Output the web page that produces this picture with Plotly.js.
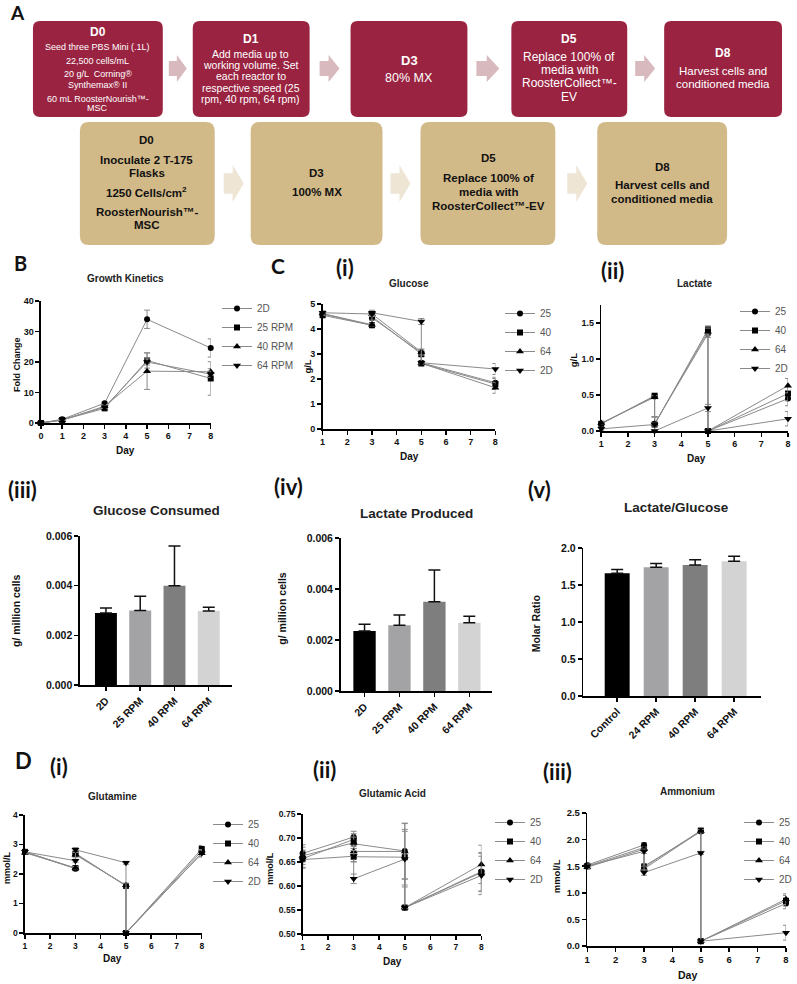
<!DOCTYPE html>
<html>
<head>
<meta charset="utf-8">
<script src="https://cdn.plot.ly/plotly-3.0.1.min.js"></script>
<style>html,body{margin:0;padding:0;background:#fff}#chart{width:797px;height:984px}</style>
</head>
<body>
<div id="chart"></div>
<script>
// ---- data ----
// B: growth kinetics
var growthDays = [0, 1, 3, 5, 8];
var growth2D  = [0, 1.2, 6.5, 34, 24.6];
var growth25  = [0, 1.0, 4.8, 20.5, 14.6];
var growth40  = [0, 0.9, 5.5, 17, 16.8];
var growth64  = [0, 1.1, 5.2, 20.0, 16.0];
var growth2DErr = [0, 0.3, 0.4, 3, 3];
var growth25Err = [0, 0.3, 0.4, 2.5, 5.5];
var growth40Err = [0, 0.2, 0.5, 6, 1];
var growth64Err = [0, 0.2, 0.4, 1, 1];

// C and D: metabolites, days 3 and 5 sampled before and after media change
var sampleDays = [1, 3, 3, 5, 5, 8];
var glucose25 = [4.60, 4.15, 4.45, 3.05, 2.65, 1.85];
var glucose40 = [4.55, 4.15, 4.50, 3.00, 2.62, 1.80];
var glucose64 = [4.62, 4.17, 4.60, 3.08, 2.63, 1.65];
var glucose2D = [4.65, 4.60, 4.65, 4.30, 2.65, 2.40];
var glucoseErr = [0.08, 0.05, 0.1, 0.12, 0.05, 0.22];

var lactate25 = [0.10, 0.48, 0.10, 1.35, 0.00, 0.45];
var lactate40 = [0.10, 0.49, 0.09, 1.41, 0.00, 0.52];
var lactate64 = [0.11, 0.47, 0.10, 1.38, 0.00, 0.63];
var lactate2D = [0.03, 0.09, 0.00, 0.32, 0.00, 0.17];
var lactateErr = [0.02, 0.02, 0.1, 0.05, 0.01, 0.1];

var glutamine25 = [2.75, 2.18, 2.70, 1.60, 0, 2.78];
var glutamine40 = [2.75, 2.20, 2.68, 1.60, 0, 2.85];
var glutamine64 = [2.72, 2.20, 2.65, 1.62, 0, 2.70];
var glutamine2D = [2.75, 2.45, 2.82, 2.38, 0, 2.70];
var glutamineErr = [0.05, 0.05, 0.08, 0.05, 0, 0.12];

var glutamic25 = [0.668, 0.702, 0.688, 0.673, 0.555, 0.630];
var glutamic40 = [0.657, 0.697, 0.661, 0.660, 0.555, 0.628];
var glutamic64 = [0.663, 0.690, 0.672, 0.672, 0.555, 0.645];
var glutamic2D = [0.655, 0.662, 0.615, 0.656, 0.555, 0.622];
var glutamicErr = [0.018, 0.012, 0.01, 0.058, 0.002, 0.04];

var ammonium25 = [1.52, 1.90, 1.50, 2.15, 0.09, 0.80];
var ammonium40 = [1.50, 1.85, 1.48, 2.17, 0.09, 0.85];
var ammonium64 = [1.48, 1.82, 1.45, 2.16, 0.09, 0.88];
var ammonium2D = [1.50, 1.78, 1.38, 1.75, 0.09, 0.25];
var ammoniumErr = [0.04, 0.04, 0.05, 0.03, 0.01, 0.1];
var ammonium2DErr = [0.04, 0.04, 0.05, 0.03, 0.01, 0.14];

// bars
var barGroups = ['2D', '25 RPM', '40 RPM', '64 RPM'];
var glucoseConsumed = [0.0029, 0.0030, 0.0040, 0.00298];
var glucoseConsumedErr = [0.0002, 0.00057, 0.0016, 0.00015];
var lactateProduced = [0.00235, 0.00258, 0.0035, 0.00268];
var lactateProducedErr = [0.00027, 0.0004, 0.00125, 0.00025];
var ratioGroups = ['Control', '24 RPM', '40 RPM', '64 RPM'];
var molarRatio = [1.66, 1.74, 1.77, 1.82];
var molarRatioErr = [0.05, 0.05, 0.07, 0.07];
var barColors = ['#000000', '#A3A3A6', '#7E7E7E', '#D3D3D3'];

// ---- helpers ----
var W = 797, H = 984;
var SANS = 'Liberation Sans, Arial, sans-serif';
var LABEL = 'Lato, Liberation Sans, sans-serif';
function px(x) { return x / W; }
function py(y) { return 1 - y / H; }

function lineTrace(name, x, y, err, symbol, n, leg) {
  return {
    type: 'scatter', mode: 'lines+markers', name: name, x: x, y: y,
    xaxis: 'x' + n, yaxis: 'y' + n, legend: leg, cliponaxis: false,
    line: {color: '#8a8a8a', width: 1},
    marker: {symbol: symbol, color: '#000', size: symbol.indexOf('triangle') === 0 ? 7 : 6},
    error_y: {type: 'data', array: err, color: '#8a8a8a', thickness: 1, width: 3}
  };
}
function barTrace(x, y, err, n) {
  return {
    type: 'bar', x: x, y: y, xaxis: 'x' + n, yaxis: 'y' + n, width: 0.64,
    showlegend: false, marker: {color: barColors, line: {width: 0}},
    error_y: {type: 'data', array: err, arrayminus: [0, 0, 0, 0], symmetric: false,
      color: '#111', thickness: 1.5, width: 6}
  };
}
function axis(x0, x1, anchor, range, extra, isY) {
  var a = {
    domain: isY ? [py(x1), py(x0)] : [px(x0), px(x1)],
    anchor: anchor, range: range, showline: true, linecolor: '#000', linewidth: 1.5,
    ticks: 'outside', ticklen: 4, tickwidth: 1.5, tickcolor: '#000',
    showgrid: false, zeroline: false,
    tickfont: {family: SANS, size: 9, color: '#111', weight: 'bold'}
  };
  for (var k in extra) a[k] = extra[k];
  return a;
}
function txt(x, y, text, size, o) {
  o = o || {};
  return {
    xref: 'paper', yref: 'paper', x: px(x), y: py(y), text: text, showarrow: false,
    xanchor: 'center', yanchor: 'middle', textangle: o.angle || 0,
    font: {family: o.family || SANS, size: size, color: o.color || '#111', weight: o.weight || 'normal'}
  };
}
function bold(x, y, text, size, o) {
  var c = {weight: 'bold'};
  for (var k in (o || {})) if (k !== 'weight') c[k] = o[k];
  return txt(x, y, text, size, c);
}
function ytitle(x, y, text, size) { return bold(x, y, text, size, {angle: -90}); }

function roundRect(x0, y0, x1, y1, r, color) {
  var p = function (x, y) { return px(x) + ',' + py(y); };
  var d = 'M' + p(x0 + r, y0) + ' L' + p(x1 - r, y0) + ' Q' + p(x1, y0) + ' ' + p(x1, y0 + r) +
    ' L' + p(x1, y1 - r) + ' Q' + p(x1, y1) + ' ' + p(x1 - r, y1) +
    ' L' + p(x0 + r, y1) + ' Q' + p(x0, y1) + ' ' + p(x0, y1 - r) +
    ' L' + p(x0, y0 + r) + ' Q' + p(x0, y0) + ' ' + p(x0 + r, y0) + ' Z';
  return {type: 'path', xref: 'paper', yref: 'paper', path: d, fillcolor: color, line: {width: 0}, layer: 'below'};
}
function blockArrow(x0, y0, x1, y1, color) {
  var p = function (x, y) { return px(x) + ',' + py(y); };
  var h = y1 - y0, xm = x0 + (x1 - x0) * 0.45;
  var d = 'M' + p(x0, y0 + h * 0.22) + ' L' + p(xm, y0 + h * 0.22) + ' L' + p(xm, y0) +
    ' L' + p(x1, y0 + h / 2) + ' L' + p(xm, y1) + ' L' + p(xm, y1 - h * 0.22) +
    ' L' + p(x0, y1 - h * 0.22) + ' Z';
  return {type: 'path', xref: 'paper', yref: 'paper', path: d, fillcolor: color, line: {width: 0}, layer: 'below'};
}
function legendAt(xText, yTop) {
  return {x: px(xText - 40), y: py(yTop), xanchor: 'left', yanchor: 'top',
    bgcolor: 'rgba(0,0,0,0)', tracegroupgap: 0,
    font: {family: SANS, size: 10, color: '#555'}};
}
function lines(x, ys, list, size, o, isBold) {
  return list.map(function (t, i) { return isBold ? bold(x, ys[i], t, size, o) : txt(x, ys[i], t, size, o); });
}

// ---- traces ----
var data = [
  lineTrace('2D', growthDays, growth2D, growth2DErr, 'circle', '', 'legend'),
  lineTrace('25 RPM', growthDays, growth25, growth25Err, 'square', '', 'legend'),
  lineTrace('40 RPM', growthDays, growth40, growth40Err, 'triangle-up', '', 'legend'),
  lineTrace('64 RPM', growthDays, growth64, growth64Err, 'triangle-down', '', 'legend'),

  lineTrace('25', sampleDays, glucose25, glucoseErr, 'circle', 2, 'legend2'),
  lineTrace('40', sampleDays, glucose40, glucoseErr, 'square', 2, 'legend2'),
  lineTrace('64', sampleDays, glucose64, glucoseErr, 'triangle-up', 2, 'legend2'),
  lineTrace('2D', sampleDays, glucose2D, glucoseErr, 'triangle-down', 2, 'legend2'),

  lineTrace('25', sampleDays, lactate25, lactateErr, 'circle', 3, 'legend3'),
  lineTrace('40', sampleDays, lactate40, lactateErr, 'square', 3, 'legend3'),
  lineTrace('64', sampleDays, lactate64, lactateErr, 'triangle-up', 3, 'legend3'),
  lineTrace('2D', sampleDays, lactate2D, lactateErr, 'triangle-down', 3, 'legend3'),

  barTrace(barGroups, glucoseConsumed, glucoseConsumedErr, 4),
  barTrace(barGroups, lactateProduced, lactateProducedErr, 5),
  barTrace(ratioGroups, molarRatio, molarRatioErr, 6),

  lineTrace('25', sampleDays, glutamine25, glutamineErr, 'circle', 7, 'legend4'),
  lineTrace('40', sampleDays, glutamine40, glutamineErr, 'square', 7, 'legend4'),
  lineTrace('64', sampleDays, glutamine64, glutamineErr, 'triangle-up', 7, 'legend4'),
  lineTrace('2D', sampleDays, glutamine2D, glutamineErr, 'triangle-down', 7, 'legend4'),

  lineTrace('25', sampleDays, glutamic25, glutamicErr, 'circle', 8, 'legend5'),
  lineTrace('40', sampleDays, glutamic40, glutamicErr, 'square', 8, 'legend5'),
  lineTrace('64', sampleDays, glutamic64, glutamicErr, 'triangle-up', 8, 'legend5'),
  lineTrace('2D', sampleDays, glutamic2D, glutamicErr, 'triangle-down', 8, 'legend5'),

  lineTrace('25', sampleDays, ammonium25, ammoniumErr, 'circle', 9, 'legend6'),
  lineTrace('40', sampleDays, ammonium40, ammoniumErr, 'square', 9, 'legend6'),
  lineTrace('64', sampleDays, ammonium64, ammoniumErr, 'triangle-up', 9, 'legend6'),
  lineTrace('2D', sampleDays, ammonium2D, ammonium2DErr, 'triangle-down', 9, 'legend6')
];

var dayTicks = {dtick: 1, tick0: 0};
var barX = {type: 'category', tickangle: -45, tickfont: {family: SANS, size: 10.5, color: '#111', weight: 'bold'}};
var barFont = {family: SANS, size: 10.5, color: '#111', weight: 'bold'};
var dFont = {family: SANS, size: 8.5, color: '#111', weight: 'bold'};
var d3Font = {family: SANS, size: 9.5, color: '#111', weight: 'bold'};

var maroon = '#9A2341', beige = '#D2B988';
var white = {color: '#fff'};
var dark = {color: '#111'};

var annotations = [
  // panel letters
  bold(18, 13, 'A', 19, {family: LABEL}),
  bold(21, 263, 'B', 20, {family: LABEL}),
  bold(278, 266, 'C', 21, {family: LABEL}),
  bold(345, 267, '(i)', 22, {family: LABEL}),
  bold(613, 270, '(ii)', 22, {family: LABEL}),
  bold(23, 489, '(iii)', 22, {family: LABEL}),
  bold(289, 486, '(iv)', 22, {family: LABEL}),
  bold(540, 489, '(v)', 22, {family: LABEL}),
  bold(24, 760, 'D', 22, {family: LABEL}),
  bold(59, 766, '(i)', 22, {family: LABEL}),
  bold(325, 769, '(ii)', 22, {family: LABEL}),
  bold(558, 771, '(iii)', 22, {family: LABEL}),

  // chart titles
  bold(126, 279, 'Growth Kinetics', 10, {color: '#222'}),
  bold(410, 283, 'Glucose', 10, {color: '#222'}),
  bold(695, 284, 'Lactate', 10, {color: '#222'}),
  bold(157, 510, 'Glucose Consumed', 13.5, {color: '#222'}),
  bold(417, 513, 'Lactate Produced', 13.5, {color: '#222'}),
  bold(677, 507, 'Lactate/Glucose', 13.5, {color: '#222'}),
  bold(113, 796, 'Glutamine', 10, {color: '#222'}),
  bold(393, 793, 'Glutamic Acid', 10, {color: '#222'}),
  bold(688, 791, 'Ammonium', 10, {color: '#222'}),

  // axis titles
  ytitle(17, 364, 'Fold Change', 9),
  bold(126, 451, 'Day', 10),
  ytitle(307, 367, 'g/L', 9.5),
  bold(410, 457, 'Day', 10),
  ytitle(574, 360, 'g/L', 9.5),
  bold(697, 458, 'Day', 10),
  ytitle(16, 610, 'g/ million cells', 10.5),
  ytitle(282, 608, 'g/ million cells', 10.5),
  ytitle(537, 624, 'Molar Ratio', 10.5),
  ytitle(7, 867, 'mmol/L', 9),
  bold(113, 958, 'Day', 10),
  ytitle(270, 868, 'mmol/L', 9),
  bold(393, 961, 'Day', 10),
  ytitle(557, 876, 'mmol/L', 9.5),
  bold(688, 975, 'Day', 10.5)
];

// workflow boxes, top row (bioreactor)
annotations = annotations.concat(
  [bold(98, 32, 'D0', 12, white)],
  lines(98, [47, 61, 74, 85, 99, 108],
    ['Seed three PBS Mini (.1L)', '22,500 cells/mL', '20 g/L  Corning®', 'Synthemax® II',
     '60 mL RoosterNourish™-', 'MSC'], 9, white),
  [bold(251, 39, 'D1', 12, white)],
  lines(251, [54, 65, 76, 88, 99],
    ['Add media up to', 'working volume. Set', 'each reactor to', 'respective speed (25',
     'rpm, 40 rpm, 64 rpm)'], 10.5, white),
  [bold(410, 60, 'D3', 13, white), txt(410, 78, '80% MX', 12.5, white)],
  [bold(570, 39, 'D5', 12, white)],
  lines(570, [57, 70, 83, 97], ['Replace 100% of', 'media with', 'RoosterCollect™-', 'EV'], 12, white),
  [bold(724, 53, 'D8', 12, white)],
  lines(724, [71, 84], ['Harvest cells and', 'conditioned media'], 11.5, white),
  // bottom row (flasks)
  lines(147, [140, 160, 173, 192, 212, 225],
    ['D0', 'Inoculate 2 T-175', 'Flasks', '1250 Cells/cm<sup>2</sup>', 'RoosterNourish™-', 'MSC'], 11.5, dark, true),
  lines(317, [173, 192], ['D3', '100% MX'], 11.5, dark, true),
  lines(489, [158, 178, 192, 206], ['D5', 'Replace 100% of', 'media with', 'RoosterCollect™-EV'], 11.5, dark, true),
  lines(663, [167, 185, 199], ['D8', 'Harvest cells and', 'conditioned media'], 11.5, dark, true)
);

var shapes = [
  roundRect(33, 21, 163, 117, 7, maroon),
  roundRect(193, 21, 310, 117, 7, maroon),
  roundRect(351, 21, 468, 117, 7, maroon),
  roundRect(512, 21, 628, 117, 7, maroon),
  roundRect(665, 21, 783, 117, 7, maroon),
  blockArrow(169, 55, 187, 82, '#D8B9BE'),
  blockArrow(320, 55, 340, 82, '#D8B9BE'),
  blockArrow(477, 55, 500, 82, '#D8B9BE'),
  blockArrow(636, 55, 656, 82, '#D8B9BE'),
  roundRect(80, 122, 215, 245, 9, beige),
  roundRect(251, 122, 383, 245, 9, beige),
  roundRect(421, 122, 556, 245, 9, beige),
  roundRect(598, 122, 728, 245, 9, beige),
  blockArrow(224, 165, 244, 202, '#EEE5D5'),
  blockArrow(391, 165, 411, 202, '#EEE5D5'),
  blockArrow(568, 165, 588, 202, '#EEE5D5')
];

var layout = {
  width: W, height: H, margin: {l: 0, r: 0, t: 0, b: 0},
  paper_bgcolor: '#fff', plot_bgcolor: 'rgba(0,0,0,0)', showlegend: true,
  xaxis:  axis(41, 211, 'y', [0, 8], dayTicks),
  yaxis:  axis(301, 423, 'x', [0, 40], {dtick: 10}, true),
  xaxis2: axis(323, 496, 'y2', [1, 8], dayTicks),
  yaxis2: axis(304, 429, 'x2', [0, 5], {dtick: 1}, true),
  xaxis3: axis(602, 789, 'y3', [1, 8], dayTicks),
  yaxis3: axis(305, 431, 'x3', [0, 1.75], {tickvals: [0, 0.5, 1, 1.5], tickformat: '.1f'}, true),
  xaxis4: axis(80, 232, 'y4', [-0.76, 3.67], barX),
  yaxis4: axis(536, 685, 'x4', [0, 0.006], {dtick: 0.002, tickformat: '.3f', tickfont: barFont}, true),
  xaxis5: axis(341, 493, 'y5', [-0.686, 3.66], barX),
  yaxis5: axis(538, 691, 'x5', [0, 0.006], {dtick: 0.002, tickformat: '.3f', tickfont: barFont}, true),
  xaxis6: axis(584, 762, 'y6', [-0.87, 3.69], barX),
  yaxis6: axis(548, 696, 'x6', [0, 2], {dtick: 0.5, tickformat: '.1f', tickfont: barFont}, true),
  xaxis7: axis(25, 202, 'y7', [1, 8], {dtick: 1, tick0: 0, tickfont: dFont}),
  yaxis7: axis(815, 933, 'x7', [0, 4], {dtick: 1, tickfont: dFont}, true),
  xaxis8: axis(303, 482, 'y8', [1, 8], {dtick: 1, tick0: 0, tickfont: dFont}),
  yaxis8: axis(814, 934, 'x8', [0.5, 0.75], {dtick: 0.05, tickformat: '.2f', tickfont: dFont}, true),
  xaxis9: axis(588, 787, 'y9', [1, 8], {dtick: 1, tick0: 0, tickfont: d3Font}),
  yaxis9: axis(813, 946, 'x9', [0, 2.5], {dtick: 0.5, tickformat: '.1f', tickfont: d3Font}, true),
  legend:  legendAt(257, 294),
  legend2: legendAt(540, 299),
  legend3: legendAt(775, 297),
  legend4: legendAt(248, 810),
  legend5: legendAt(530, 808),
  legend6: legendAt(780, 808),
  annotations: annotations,
  shapes: shapes
};

Plotly.newPlot('chart', data, layout, {displayModeBar: false, staticPlot: true});
</script>
</body>
</html>
